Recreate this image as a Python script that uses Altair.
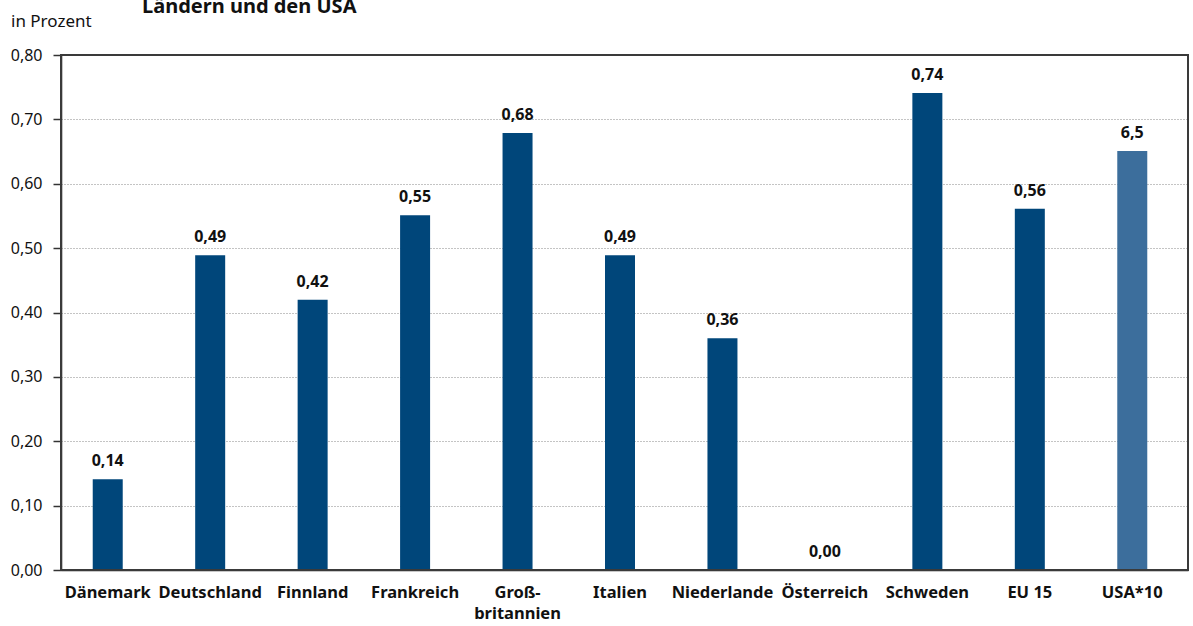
import altair as alt
import pandas as pd

categories = ["Dänemark", "Deutschland", "Finnland", "Frankreich", "Großbritannien",
              "Italien", "Niederlande", "Österreich", "Schweden", "EU 15", "USA*10"]
values = [0.141, 0.489, 0.42, 0.551, 0.679, 0.489, 0.36, 0.0, 0.741, 0.561, 0.651]
labels = ["0,14", "0,49", "0,42", "0,55", "0,68", "0,49", "0,36", "0,00", "0,74", "0,56", "6,5"]
groups = ["Land"] * 10 + ["USA"]

df = pd.DataFrame({"cat": categories, "val": values, "lab": labels, "grp": groups})
one = pd.DataFrame({"k": [0]})

FONT = "Noto Sans"
SHIFT = -4.5

x = alt.X("cat:N", sort=categories, title=None,
          scale=alt.Scale(paddingInner=0, paddingOuter=0),
          axis=alt.Axis(labelAngle=0, labelFont=FONT, labelFontSize=16.5, labelFontWeight="bold",
                        labelColor="#111", labelPadding=14, labelOffset=SHIFT, ticks=False,
                        domain=True, domainColor="#222", domainWidth=1.5,
                        labelExpr="datum.value == 'Großbritannien' ? ['Groß-', 'britannien'] : datum.value",
                        labelLineHeight=21))
y = alt.Y("val:Q", title=None,
          scale=alt.Scale(domain=[0, 0.8], nice=False, zero=True),
          axis=alt.Axis(values=[0, 0.1, 0.2, 0.3, 0.4, 0.5, 0.6, 0.7, 0.8],
                        labelExpr="replace(format(datum.value, '.2f'), '.', ',')",
                        labelFont=FONT, labelFontSize=16, labelColor="#111",
                        tickSize=8, tickColor="#333", tickWidth=1.5, labelPadding=11,
                        domainColor="#111", domainWidth=1.5,
                        grid=True, gridDash=[1, 2], gridColor="#888", gridWidth=1))

bars = alt.Chart(df).mark_bar(size=30, xOffset=SHIFT).encode(
    x=x, y=y,
    color=alt.Color("grp:N", scale=alt.Scale(domain=["Land", "USA"], range=["#00467a", "#3c6e9c"]),
                    legend=None),
)

text = alt.Chart(df).mark_text(baseline="alphabetic", dy=-13, dx=SHIFT, font=FONT, fontSize=16,
                               fontWeight="bold", color="#111").encode(
    x=alt.X("cat:N", sort=categories), y="val:Q", text="lab:N")

frame = alt.Chart(one).mark_rect(fillOpacity=0, stroke="#3a3a3a", strokeWidth=2).encode(
    x=alt.value(0), x2=alt.value(1127), y=alt.value(0), y2=alt.value(515))

unit = alt.Chart(one).mark_text(align="left", baseline="alphabetic", font=FONT,
                                fontSize=17, color="#111").encode(
    x=alt.value(-50), y=alt.value(-28), text=alt.value("in Prozent"))

head = alt.Chart(one).mark_text(align="left", baseline="alphabetic", font=FONT,
                                fontSize=20, fontWeight="bold", color="#111").encode(
    x=alt.value(81), y=alt.value(-42), text=alt.value("Ländern und den USA"))

chart = alt.layer(bars, frame, text, unit, head).properties(
    width=1127, height=515,
    autosize=alt.AutoSizeParams(type="none"),
    padding={"left": 61, "top": 55, "right": 5, "bottom": 56},
    background="white",
).configure_view(stroke="#3a3a3a", strokeWidth=2)

chart.save("out.html", embed_options={"renderer": "svg", "actions": False})
